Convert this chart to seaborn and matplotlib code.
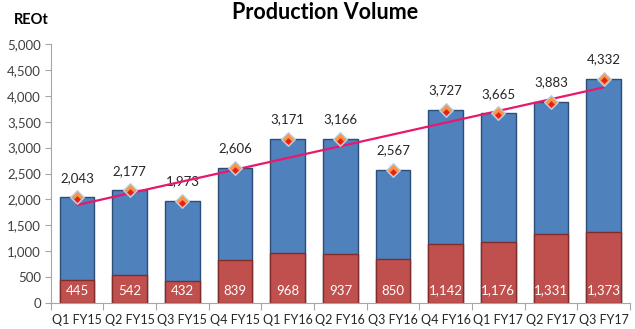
import matplotlib
matplotlib.use("Agg")
import matplotlib.pyplot as plt
import seaborn as sns
import numpy as np
import pandas as pd
from matplotlib.ticker import FuncFormatter, FixedLocator

quarters = ["Q1 FY15", "Q2 FY15", "Q3 FY15", "Q4 FY15", "Q1 FY16", "Q2 FY16",
            "Q3 FY16", "Q4 FY16", "Q1 FY17", "Q2 FY17", "Q3 FY17"]
total = [2043, 2177, 1973, 2606, 3171, 3166, 2567, 3727, 3665, 3883, 4332]
lower = [445, 542, 432, 839, 968, 937, 850, 1142, 1176, 1331, 1373]

df = pd.DataFrame({"quarter": quarters, "total": total, "lower": lower})

sns.set_theme(style="white")
plt.rcParams["font.family"] = ["Lato", "DejaVu Sans"]

fig = plt.figure(figsize=(6.35, 3.29), dpi=100)
ax = fig.add_axes([0.080, 0.079, 0.912, 0.787])

blue = "#4F81BD"
red = "#C0504D"
sns.barplot(data=df, x="quarter", y="total", color=blue, width=0.66,
            edgecolor="#2C4D75", linewidth=1.0, saturation=1, ax=ax)
sns.barplot(data=df, x="quarter", y="lower", color=red, width=0.66,
            edgecolor="#7F2C2A", linewidth=1.0, saturation=1, ax=ax)

# trend line (least squares fit on totals)
x = np.arange(len(total))
coef = np.polyfit(x, total, 1)
ax.plot(x, np.polyval(coef, x), color="#E8186D", lw=1.6, zorder=4)

# markers
ax.scatter(x, total, marker="D", s=48, color="#F79646", edgecolor="#B9CDE5",
           linewidth=1.0, zorder=5)
ax.scatter(x, np.array(total) - 35, marker="D", s=12, color="#E8201A",
           linewidth=0, zorder=6)

for i, (t, l) in enumerate(zip(total, lower)):
    ax.annotate(f"{t:,}", (i, t), xytext=(0, 14), textcoords="offset points",
                ha="center", va="center", fontsize=9.5, color="#262626")
    ax.annotate(f"{l:,}", (i, 0), xytext=(0, 9), textcoords="offset points",
                ha="center", va="center", fontsize=9.5, color="white")

ax.set_xlim(-0.5, len(quarters) - 0.5)
ax.set_ylim(0, 5000)
ax.set_yticks(np.arange(0, 5001, 500))
ax.yaxis.set_major_formatter(FuncFormatter(lambda v, p: f"{int(v):,}"))
ax.set_xlabel("")
ax.set_ylabel("")
ax.xaxis.set_minor_locator(FixedLocator(np.arange(-0.5, len(quarters), 1.0)))
ax.tick_params(axis="x", which="major", length=0, labelsize=9, colors="#262626", pad=8)
ax.tick_params(axis="x", which="minor", length=5, width=0.8, color="#A6A6A6", direction="out", bottom=True)
ax.tick_params(axis="y", which="major", length=4, width=0.8, color="#A6A6A6",
               direction="out", left=True, labelsize=9.5, labelcolor="#404040", pad=3)

for s in ["top", "right"]:
    ax.spines[s].set_visible(False)
for s in ["left", "bottom"]:
    ax.spines[s].set_color("#A6A6A6")
    ax.spines[s].set_linewidth(0.8)

fig.text(0.512, 0.995, "Production Volume", ha="center", va="top",
         fontsize=15.5, fontweight="bold", color="#000000")
fig.text(0.022, 0.96, "REOt", ha="left", va="top", fontsize=10.5,
         fontweight="bold", color="#000000")

fig.savefig("out.png", dpi=100)
